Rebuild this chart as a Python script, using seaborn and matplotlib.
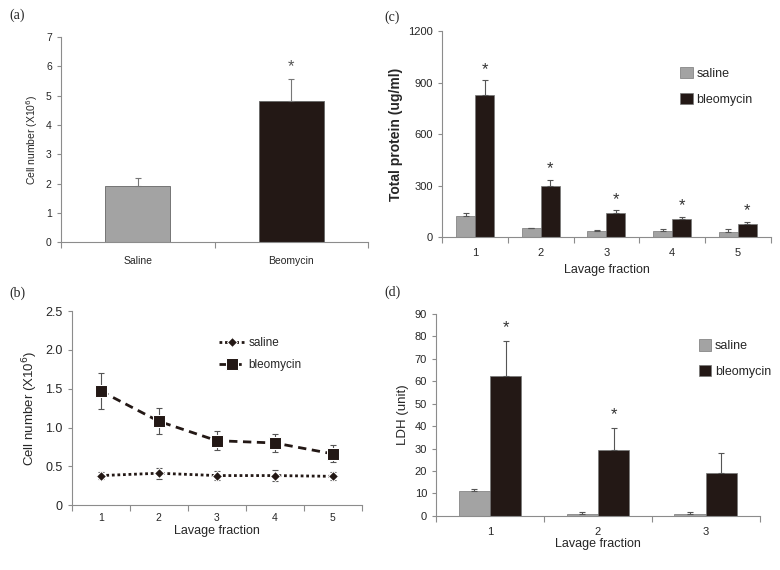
import numpy as np
import pandas as pd
import seaborn as sns
import matplotlib.pyplot as plt
from matplotlib.ticker import MultipleLocator, FixedLocator

# data
a_groups = ["Saline", "Beomycin"]
a_values = [1.93, 4.83]
a_err = [0.25, 0.75]

fractions5 = ["1", "2", "3", "4", "5"]
b_saline = [0.38, 0.41, 0.38, 0.38, 0.37]
b_saline_err = [0.05, 0.07, 0.06, 0.07, 0.05]
b_bleo = [1.47, 1.08, 0.83, 0.80, 0.66]
b_bleo_err = [0.23, 0.17, 0.12, 0.12, 0.11]

c_saline = [125, 53, 35, 37, 31]
c_saline_err = [15, 3, 8, 12, 14]
c_bleo = [830, 298, 138, 103, 76]
c_bleo_err = [84, 37, 18, 16, 15]

fractions3 = ["1", "2", "3"]
d_saline = [11.0, 1.0, 0.9]
d_saline_err = [0.9, 0.5, 0.7]
d_bleo = [62.2, 29.2, 19.2]
d_bleo_err = [15.8, 10.1, 8.8]
d_stars = [True, True, False]

GRAY = "#a3a3a3"
DARK = "#231815"
SPINE = "#8c8c8c"

sns.set_style("ticks")
plt.rcParams["font.family"] = ["Liberation Sans", "DejaVu Sans"]

fig = plt.figure(figsize=(7.8, 5.7), dpi=100)
ax_a = fig.add_axes([0.078, 0.575, 0.394, 0.360])
ax_c = fig.add_axes([0.567, 0.584, 0.421, 0.361])
ax_b = fig.add_axes([0.092, 0.114, 0.372, 0.340])
ax_d = fig.add_axes([0.559, 0.095, 0.415, 0.354])


def style_axis(ax, n, tick_fs):
    sns.despine(ax=ax)
    for s in ["left", "bottom"]:
        ax.spines[s].set_color(SPINE)
        ax.spines[s].set_linewidth(0.8)
    ax.set_xlim(-0.5, n - 0.5)
    ax.xaxis.set_minor_locator(FixedLocator(np.arange(-0.5, n, 1.0)))
    ax.tick_params(axis="x", which="major", length=0, labelsize=tick_fs, pad=8)
    ax.tick_params(axis="x", which="minor", length=4, color=SPINE, width=0.8)
    ax.tick_params(axis="y", length=3, color=SPINE, width=0.8, labelsize=tick_fs)


def grouped_bars(ax, cats, sal, bleo, sal_err, bleo_err, stars, star_off):
    df = pd.DataFrame({
        "fraction": cats * 2,
        "value": sal + bleo,
        "group": ["saline"] * len(cats) + ["bleomycin"] * len(cats),
    })
    sns.barplot(data=df, x="fraction", y="value", hue="group",
                palette={"saline": GRAY, "bleomycin": DARK},
                width=0.58, errorbar=None, edgecolor="#777777", linewidth=0.5,
                saturation=1, ax=ax)
    for cont, errs, star in zip(ax.containers, [sal_err, bleo_err], [None, stars]):
        for i, (p, e) in enumerate(zip(cont.patches, errs)):
            xc = p.get_x() + p.get_width() / 2
            h = p.get_height()
            ax.errorbar(xc, h, yerr=[[0], [e]], fmt="none", ecolor="#555555",
                        elinewidth=0.8, capsize=2.5, capthick=0.8)
            if star is not None and star[i]:
                ax.text(xc, h + e + star_off, "*", ha="center", va="center",
                        fontsize=12, color="#333333")
    leg = ax.legend(frameon=False, loc="upper right", fontsize=9,
                    handlelength=1.0, handleheight=1.0, handletextpad=0.3,
                    labelspacing=1.0)
    return leg


# (a)
df_a = pd.DataFrame({"group": a_groups, "value": a_values})
sns.barplot(data=df_a, x="group", y="value", hue="group",
            palette=[GRAY, DARK], width=0.42, errorbar=None,
            edgecolor="#666666", linewidth=0.6, saturation=1, legend=False, ax=ax_a)
for p, e in zip(ax_a.patches, a_err):
    xc = p.get_x() + p.get_width() / 2
    ax_a.errorbar(xc, p.get_height(), yerr=[[0], [e]], fmt="none",
                  ecolor="#777777", elinewidth=0.8, capsize=2.5, capthick=0.8)
ax_a.text(1, a_values[1] + a_err[1] + 0.42, "*", ha="center", va="center",
          fontsize=12, color="#555555")
style_axis(ax_a, 2, 7.5)
ax_a.tick_params(axis="x", pad=10)
ax_a.set_ylim(0, 7)
ax_a.yaxis.set_major_locator(MultipleLocator(1))
ax_a.set_xlabel("")
ax_a.set_ylabel("Cell number (X10$^6$)", fontsize=7.5)

# (c)
grouped_bars(ax_c, fractions5, c_saline, c_bleo, c_saline_err, c_bleo_err,
             [True] * 5, 65)
style_axis(ax_c, 5, 8)
ax_c.set_ylim(0, 1200)
ax_c.yaxis.set_major_locator(MultipleLocator(300))
ax_c.set_xlabel("Lavage fraction", fontsize=9)
ax_c.set_ylabel("Total protein (ug/ml)", fontsize=10, fontweight="bold")
ax_c.legend_.set_bbox_to_anchor((0.98, 0.88))

# (b)
x5 = np.arange(len(fractions5))
ax_b.errorbar(x5, b_saline, yerr=b_saline_err, fmt="none", ecolor="#555555",
              elinewidth=0.8, capsize=2.5, capthick=0.8)
ax_b.errorbar(x5, b_bleo, yerr=b_bleo_err, fmt="none", ecolor="#555555",
              elinewidth=0.8, capsize=2.5, capthick=0.8)
sns.lineplot(x=x5, y=b_saline, ax=ax_b, color=DARK, marker="D", markersize=5,
             linestyle=(0, (1, 1)), linewidth=2, label="saline")
sns.lineplot(x=x5, y=b_bleo, ax=ax_b, color=DARK, marker="s", markersize=8,
             linestyle=(0, (3, 2)), linewidth=2, label="bleomycin")
style_axis(ax_b, 5, 7.5)
ax_b.set_xticks(x5)
ax_b.set_xticklabels(fractions5)
ax_b.set_ylim(0, 2.5)
ax_b.set_yticks([0, 0.5, 1.0, 1.5, 2.0, 2.5])
ax_b.set_yticklabels(["0", "0.5", "1.0", "1.5", "2.0", "2.5"], fontsize=9)
ax_b.tick_params(axis="x", pad=6)
ax_b.set_xlabel("Lavage fraction", fontsize=9, labelpad=1)
ax_b.set_ylabel("Cell number (X10$^6$)", fontsize=9.5)
ax_b.legend(frameon=False, loc="upper left", bbox_to_anchor=(0.47, 0.92),
            fontsize=8.5, handlelength=2.2, handletextpad=0.3, labelspacing=0.8)

# (d)
grouped_bars(ax_d, fractions3, d_saline, d_bleo, d_saline_err, d_bleo_err,
             d_stars, 6)
style_axis(ax_d, 3, 8)
ax_d.set_ylim(0, 90)
ax_d.yaxis.set_major_locator(MultipleLocator(10))
ax_d.set_xlabel("Lavage fraction", fontsize=9, labelpad=1)
ax_d.set_ylabel("LDH (unit)", fontsize=9.5)
ax_d.legend_.set_bbox_to_anchor((1.07, 0.93))

# panel letters
for txt, x, y in [("(a)", 0.012, 0.974), ("(c)", 0.493, 0.97),
                  ("(b)", 0.012, 0.486), ("(d)", 0.493, 0.488)]:
    fig.text(x, y, txt, fontsize=10, family="Liberation Serif", va="center")

fig.savefig("out.png", dpi=100)
